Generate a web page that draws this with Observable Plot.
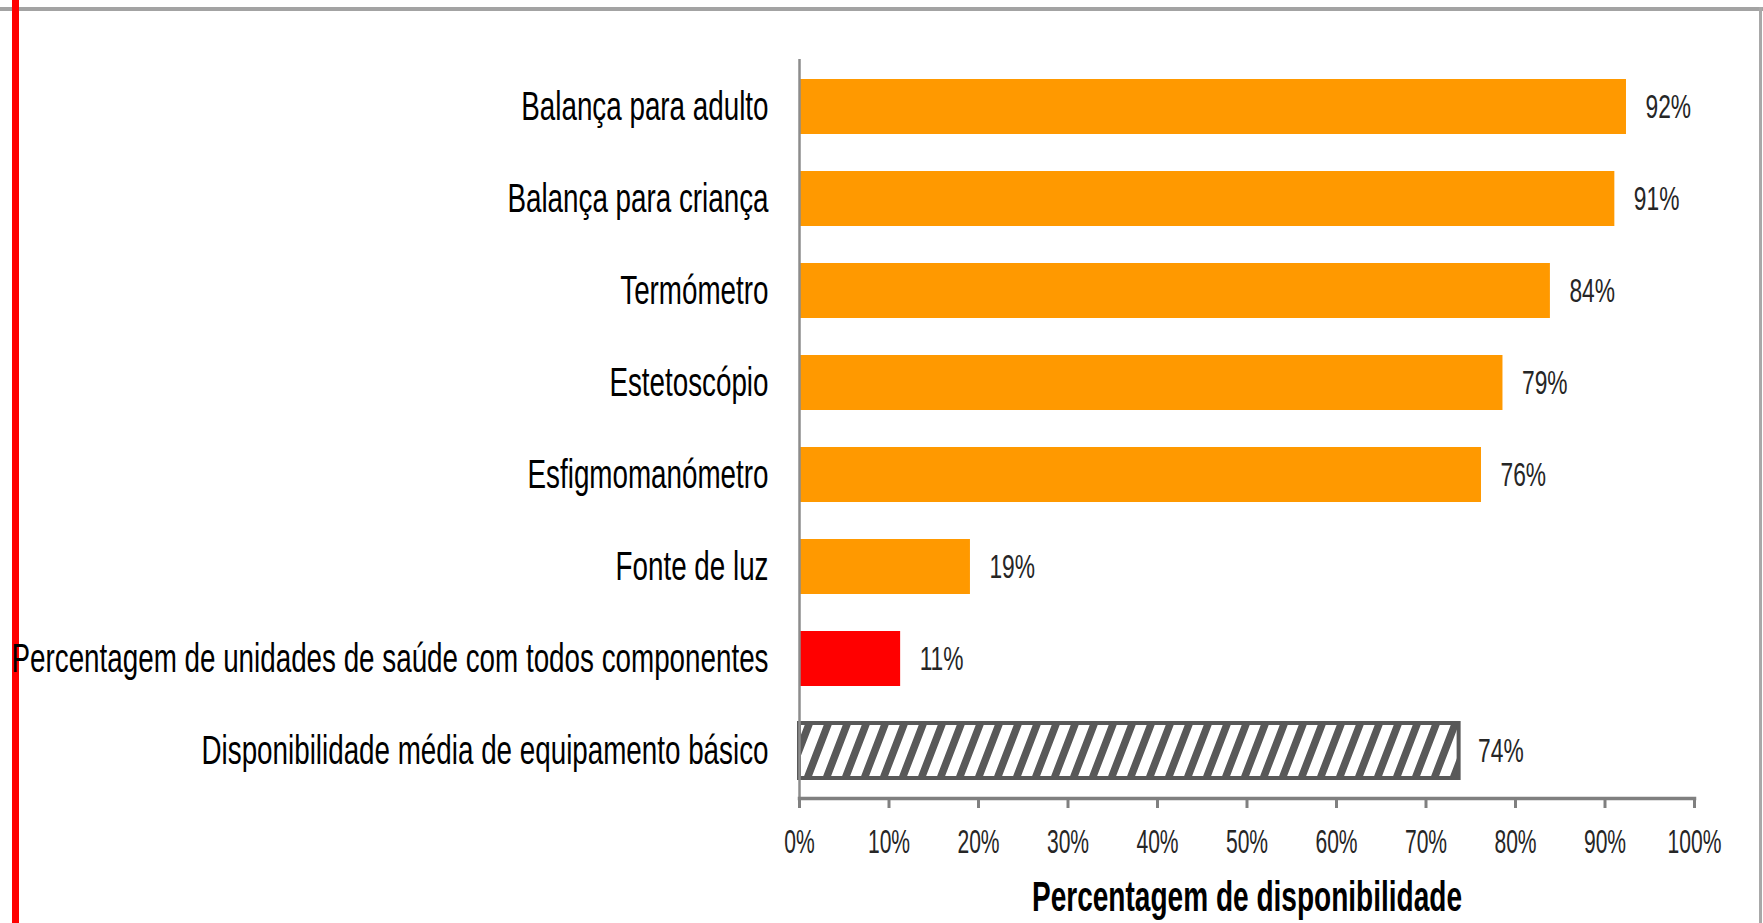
<!DOCTYPE html>
<html>
<head>
<meta charset="utf-8">
<script src="https://cdn.jsdelivr.net/npm/d3@7"></script>
<script src="https://cdn.jsdelivr.net/npm/@observablehq/plot@0.6"></script>
<style>
  html, body { margin: 0; padding: 0; background: #fff; overflow: hidden; }
  #wrap { position: relative; width: 1763px; height: 923px; }
  #redline { position: absolute; left: 12px; top: 0; width: 7px; height: 923px; background: #ff0000; z-index: 2; }
  #topline { position: absolute; left: 0; top: 7px; width: 1763px; height: 4px; background: #a3a3a3; z-index: 1; }
  #rightline { position: absolute; left: 1759px; top: 7px; width: 3px; height: 916px; background: #a8a8a8; z-index: 1; }
  #chart { position: absolute; left: 0; top: 0; z-index: 3; }
  #chart svg { display: block; background: transparent; }
</style>
</head>
<body>
<div id="wrap">
  <div id="topline"></div>
  <div id="rightline"></div>
  <div id="redline"></div>
  <div id="chart"></div>
</div>
<script>
const categories = [
  "Balança para adulto",
  "Balança para criança",
  "Termómetro",
  "Estetoscópio",
  "Esfigmomanómetro",
  "Fonte de luz",
  "Percentagem de unidades de saúde com todos componentes",
  "Disponibilidade média de equipamento básico"
];
const values = [92.4, 91.1, 83.9, 78.6, 76.2, 19.1, 11.3, 73.7];
const valueLabels = ["92%", "91%", "84%", "79%", "76%", "19%", "11%", "74%"];
const kinds = ["item", "item", "item", "item", "item", "item", "all", "average"];
const xTicks = [0, 10, 20, 30, 40, 50, 60, 70, 80, 90, 100];
const xTitle = "Percentagem de disponibilidade";

const data = categories.map((c, i) => ({category: c, value: values[i], label: valueLabels[i], kind: kinds[i]}));

const plot = Plot.plot({
  width: 1763,
  height: 923,
  marginLeft: 799,
  marginRight: 69,
  marginTop: 59,
  marginBottom: 125,
  style: {fontFamily: "'Liberation Sans', Arial, sans-serif", background: "transparent"},
  x: {domain: [0, 100]},
  y: {domain: categories, paddingInner: 0.404, paddingOuter: 0.202},
  marks: [
    Plot.barX(data, {filter: d => d.kind === "item", x: "value", y: "category", fill: "#ff9900"}),
    Plot.barX(data, {filter: d => d.kind === "all", x: "value", y: "category", fill: "#ff0000"}),
    Plot.barX(data, {filter: d => d.kind === "average", x: "value", y: "category", fill: "url(#hatch)", stroke: "#595959", strokeWidth: 4}),
    Plot.ruleX([0], {stroke: "#8c8c8c", strokeWidth: 2.5}),
    Plot.frame({anchor: "bottom", stroke: "#808080", strokeWidth: 3.5}),
    Plot.axisX(xTicks, {tickSize: 10, tickPadding: 20, tickFormat: d => d + "%", stroke: "#808080", strokeWidth: 3, fill: "#262626", fontSize: 34, label: null}),
    Plot.axisY({tickSize: 0, tickPadding: 31, fontSize: 41, fill: "#000", label: null}),
    Plot.text(data, {x: "value", y: "category", text: "label", dx: 19, textAnchor: "start", fontSize: 33, fill: "#262626"}),
    Plot.text([xTitle], {frameAnchor: "bottom", dy: 112, lineAnchor: "bottom", fontSize: 42, fontWeight: "bold", fill: "#000"})
  ]
});

// hatch pattern definition
const svgSel = d3.select(plot);
const defs = svgSel.insert("defs", ":first-child");
const pat = defs.append("pattern")
  .attr("id", "hatch")
  .attr("patternUnits", "userSpaceOnUse")
  .attr("width", 19).attr("height", 20)
  .attr("patternTransform", "skewX(-21)");
pat.append("rect").attr("width", 19).attr("height", 20).attr("fill", "#ffffff");
pat.append("rect").attr("width", 8).attr("height", 20).attr("fill", "#595959");

// condensed text look (horizontal compression), chosen by each group's font size
const sxBySize = {"41": 0.678, "34": 0.62, "33": 0.69, "42": 0.668};
plot.querySelectorAll("text").forEach(t => {
  const g = t.closest("[font-size]");
  if (!g) return;
  const sx = sxBySize[String(parseFloat(g.getAttribute("font-size")))];
  if (!sx) return;
  const tr = t.getAttribute("transform") || "";
  t.setAttribute("transform", (tr + ` scale(${sx},1)`).trim());
});

document.getElementById("chart").appendChild(plot);
</script>
</body>
</html>
